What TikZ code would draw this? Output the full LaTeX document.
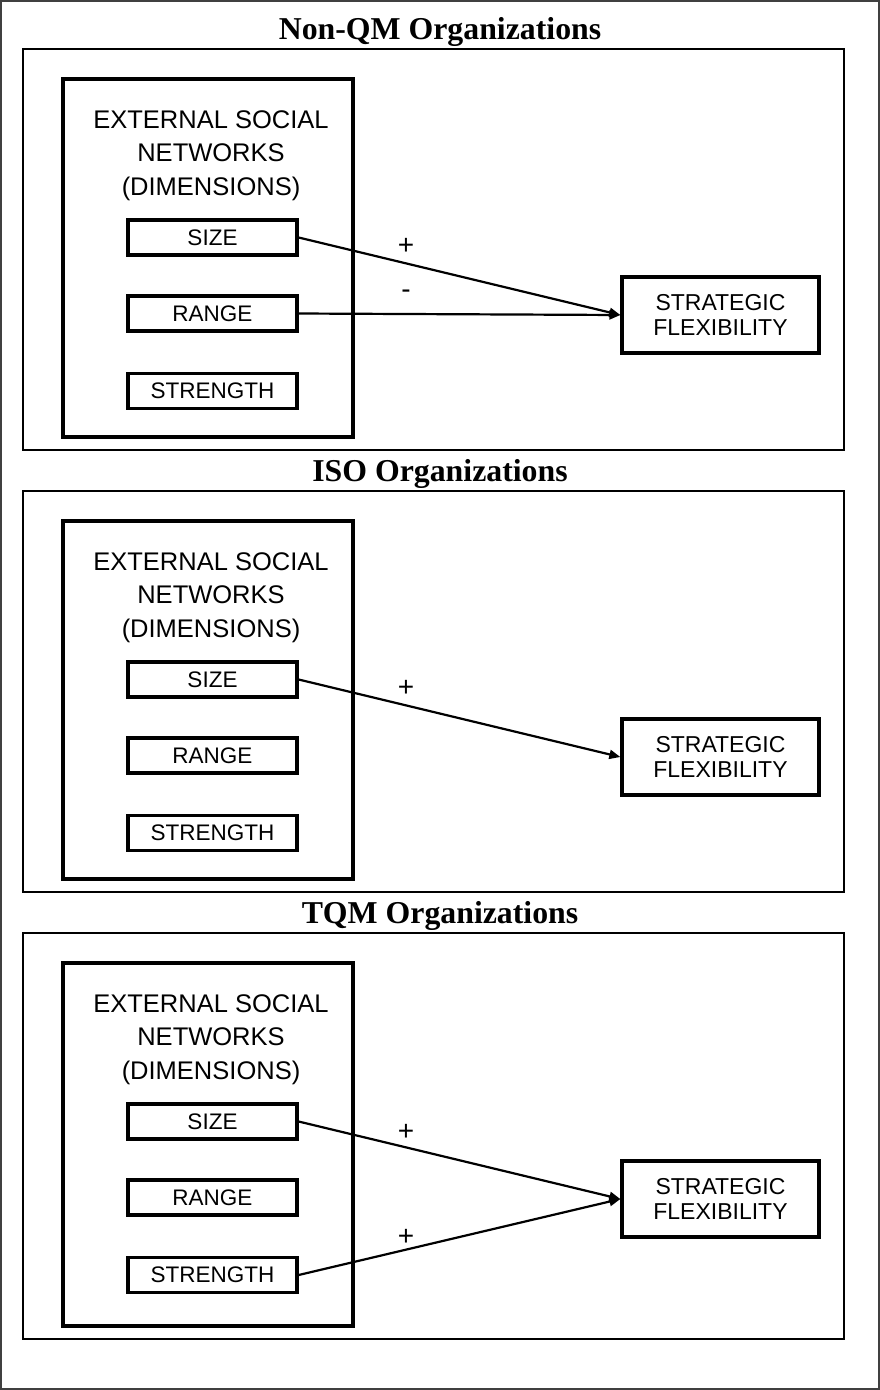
\documentclass[tikz,border=0pt]{standalone}
\usepackage{fontspec}
\setmainfont{Liberation Serif}
\newfontfamily\arialf{Liberation Sans}
\usetikzlibrary{arrows.meta}
\newcommand\drawpanel[3]{%
  \node[ttl] (#1title) at (440,39) {#2};
  \draw[panelbox] (23,49) rectangle (844,{450+#3});
  \draw[esnbox] (63,79) rectangle (353,{437+#3});
  \node[header, anchor=north] (#1esn) at (211,110) {EXTERNAL SOCIAL\\NETWORKS\\(DIMENSIONS)};
  \node[dimbox] (#1size) at (212.5,237.5) {SIZE};
  \node[dimbox] (#1range) at (212.5,313.5) {RANGE};
  \node[dimbox] (#1strength) at (212.5,391) {STRENGTH};
  \node[sfbox] (#1sf) at (720.5,315) {STRATEGIC\\FLEXIBILITY};
}
\begin{document}
\begin{tikzpicture}[x=1pt,y=-1pt,
  frame/.style={draw=black!75, line width=1.3pt},
  panelbox/.style={draw, line width=2pt},
  esnbox/.style={draw, line width=3.3pt},
  dimbox/.style={draw, line width=3.3pt, minimum width=169pt, minimum height=35pt, inner sep=0pt,
    font=\arialf\fontsize{22.5}{25}\selectfont},
  sfbox/.style={draw, line width=3.3pt, minimum width=197pt, minimum height=76pt, inner sep=0pt,
    align=center, font=\arialf\fontsize{23}{25}\selectfont},
  ttl/.style={font=\bfseries\fontsize{31.8}{36}\selectfont, inner sep=0pt, anchor=base},
  header/.style={align=center, inner sep=0pt, font=\arialf\fontsize{25.5}{33.5}\selectfont},
  sign/.style={font=\arialf\fontsize{28}{30}\selectfont, inner sep=0pt},
  link/.style={line width=2.2pt, -{Triangle[length=11pt,width=9pt]}}
]
\useasboundingbox (0,0) rectangle (880,1390);
\draw[frame] (1,1) rectangle (879,1389);

% Panel 1
\drawpanel{p1}{Non-QM Organizations}{0}
\draw[link] (p1size.east) -- (p1sf.west);
\draw[link] (p1range.east) -- (p1sf.west);
\node[sign] (p1plus) at (406,246) {+};
\node[sign] (p1minus) at (406,294) {-};

% Panel 2
\begin{scope}[shift={(0,442)}]
\drawpanel{p2}{ISO Organizations}{0}
\draw[link] (p2size.east) -- (p2sf.west);
\node[sign] (p2plus) at (406,246) {+};
\end{scope}

% Panel 3
\begin{scope}[shift={(0,884)}]
\drawpanel{p3}{TQM Organizations}{5}
\draw[link] (p3size.east) -- (p3sf.west);
\draw[link] (p3strength.east) -- (p3sf.west);
\node[sign] (p3plusa) at (406,248) {+};
\node[sign] (p3plusb) at (406,353) {+};
\end{scope}
\end{tikzpicture}
\end{document}
